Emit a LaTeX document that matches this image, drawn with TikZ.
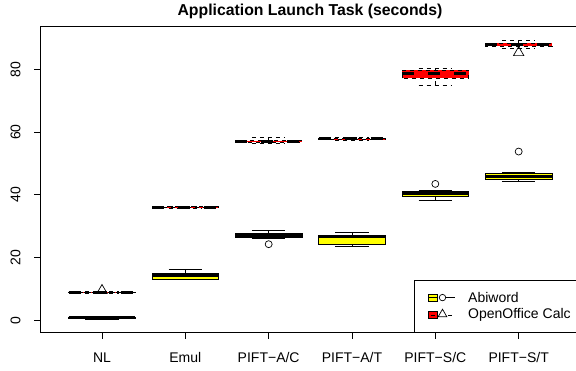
\documentclass[tikz,border=0pt]{standalone}
\usepackage{fontspec}
\setmainfont{Liberation Sans}
\usetikzlibrary{shapes.geometric}
\definecolor{abiyellow}{HTML}{FFFF00}
\definecolor{calcred}{HTML}{FF0000}

\begin{document}
\begin{tikzpicture}[x=1pt, y=3.14pt,
    plotframe/.style={draw=black, line width=1pt},
    axistick/.style={draw=black, line width=0.8pt},
    ticklabel/.style={font=\fontsize{14}{16}\selectfont, inner sep=0pt},
    abibox/.style={draw=black, fill=abiyellow, line width=0.7pt},
    abiline/.style={draw=black, line width=0.7pt},
    abimed/.style={draw=black, line width=3pt},
    calcbox/.style={draw=black, fill=calcred, line width=0.7pt,
      dash pattern=on 4pt off 4pt},
    calcline/.style={draw=black, line width=0.7pt,
      dash pattern=on 4pt off 4pt},
    calcmed/.style={draw=black, line width=3pt,
      dash pattern=on 12pt off 14pt},
    abiout/.style={circle, draw=black, line width=0.7pt,
      minimum size=7pt, inner sep=0pt},
    calcout/.style={regular polygon, regular polygon sides=3,
      draw=black, line width=0.7pt, minimum size=12pt, inner sep=0pt},
  ]

  \clip (0,-16.08) rectangle (576,102.07);

  % =================== FRAME AND AXES ===================
  \draw[plotframe] (40.5,-3.76) rectangle (590,93.6);
  \node[font=\bfseries\fontsize{15.8}{18}\selectfont] (title) at (310,98.3)
  {Application Launch Task (seconds)};

  \foreach \v in {0,20,...,80} {
    \draw[axistick] (40.5,\v) -- ++(-7pt,0);
    \node[ticklabel, rotate=90] (ylab\v) at (15.5,\v) {\v};
  }

  \foreach \i/\name/\lab in {1/nl/NL, 2/emul/Emul, 3/piftac/{PIFT−A/C},
    4/piftat/{PIFT−A/T}, 5/piftsc/{PIFT−S/C}, 6/piftst/{PIFT−S/T}} {
    \pgfmathsetmacro{\cx}{18.67+83.33*\i}
    \draw[axistick] (\cx,-3.76) -- ++(0,-7pt);
    \node[ticklabel] (xlab\name) at (\cx,-11.8) {\lab};
  }

  % =================== ABIWORD ===================
  \foreach \i/\lo/\qa/\md/\qb/\hi in {1/0.5/0.7/0.8/0.9/1.0,
    2/13.2/13.2/14.3/15.0/16.3, 3/26.3/26.4/27.0/27.6/28.8,
    4/23.6/24.4/26.8/27.0/28.1, 5/38.2/39.4/40.4/41.1/41.3,
    6/44.2/45.0/46.0/46.8/47.3} {
    \pgfmathsetmacro{\cx}{18.67+83.33*\i}
    \filldraw[abibox] (\cx-33.3,\qa) rectangle (\cx+33.3,\qb);
    \draw[abimed] (\cx-33.3,\md) -- (\cx+33.3,\md);
    \draw[abiline] (\cx,\lo) -- (\cx,\qa) (\cx,\qb) -- (\cx,\hi);
    \draw[abiline] (\cx-16.67,\lo) -- (\cx+16.67,\lo)
    (\cx-16.67,\hi) -- (\cx+16.67,\hi);
  }
  \node[abiout] (abiac) at (268.67,24.3) {};
  \node[abiout] (abisc) at (435.33,43.5) {};
  \node[abiout] (abist) at (518.67,53.8) {};

  % =================== OPENOFFICE CALC ===================
  \foreach \i/\lo/\qa/\md/\qb/\hi in {1/8.7/8.85/8.95/9.05/9.2,
    2/35.8/35.9/36.0/36.2/36.3, 3/56.5/56.8/57.0/57.3/58.2,
    4/57.3/57.6/57.8/57.9/58.2, 5/74.9/77.1/78.6/79.8/80.3,
    6/86.7/87.4/87.8/88.3/89.1} {
    \pgfmathsetmacro{\cx}{18.67+83.33*\i}
    \filldraw[calcbox] (\cx-33.3,\qa) rectangle (\cx+33.3,\qb);
    \draw[calcmed] (\cx-33.3,\md) -- (\cx+33.3,\md);
    \draw[calcline] (\cx,\lo) -- (\cx,\qa) (\cx,\qb) -- (\cx,\hi);
    \draw[calcline] (\cx-16.67,\lo) -- (\cx+16.67,\lo)
    (\cx-16.67,\hi) -- (\cx+16.67,\hi);
  }
  \node[calcout] (calcnl) at (102,9.55) {};
  \node[calcout] (calcst) at (518.67,85.3) {};

  % =================== LEGEND ===================
  \draw[plotframe, line width=0.8pt] (414.3,-3.76) rectangle (590,12.9);

  \filldraw[abibox] (428,6.2) rectangle (437,8.4);
  \draw[abiline] (428,7.3) -- (437,7.3);
  \node[abiout, minimum size=6.5pt] (legabi) at (442.5,7.3) {};
  \coordinate (legabiend) at (455,7.3);
  \draw[abiline] (legabi.east) -- (legabiend);
  \node[ticklabel, anchor=west] (legabitext) at (468,7.3) {Abiword};

  \filldraw[calcbox, solid] (428,0.65) rectangle (437,2.85);
  \draw[abiline] (430.5,1.75) -- (434.5,1.75);
  \node[calcout, minimum size=10pt] (legcalc) at (442.5,2.0) {};
  \coordinate (legcalcdash) at (452,1.75);
  \draw[abiline] ([xshift=5.5pt]legcalc.center |- legcalcdash) -- (legcalcdash);
  \node[ticklabel, anchor=west] (legcalctext) at (468,1.75) {OpenOffice Calc};

\end{tikzpicture}
\end{document}
